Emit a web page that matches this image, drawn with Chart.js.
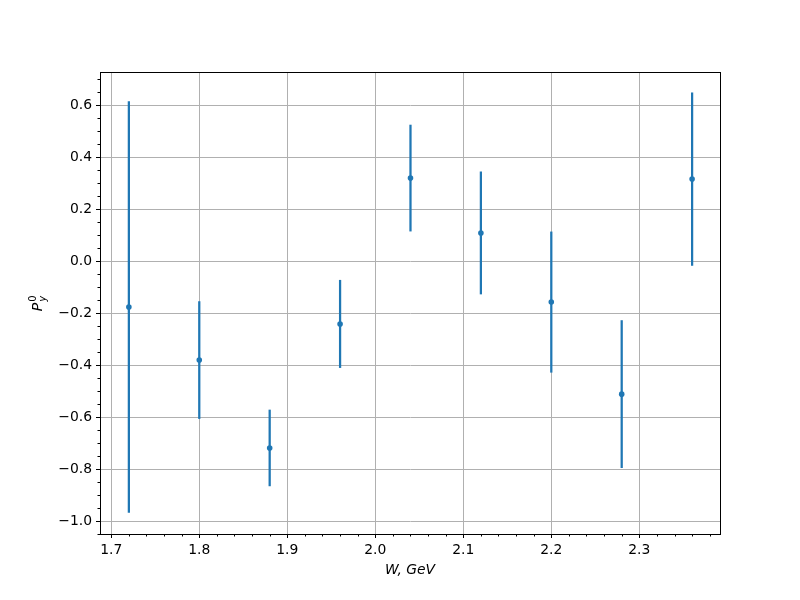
<!DOCTYPE html>
<html>
<head>
<meta charset="utf-8">
<script src="https://cdn.jsdelivr.net/npm/chart.js@4"></script>
<style>
  html, body { margin: 0; padding: 0; background: #fff; }
  #wrap { width: 800px; height: 600px; }
</style>
</head>
<body>
<div id="wrap"><canvas id="polChart" width="800" height="600"></canvas></div>
<script>
// W values (GeV) and measured polarization with symmetric errors
const wValues = [1.72, 1.80, 1.88, 1.96, 2.04, 2.12, 2.20, 2.28, 2.36];
const pValues = [-0.177, -0.381, -0.719, -0.242, 0.319, 0.108, -0.158, -0.512, 0.315];
const pErrors = [0.790, 0.225, 0.146, 0.168, 0.204, 0.235, 0.270, 0.283, 0.332];

const xTicks = [1.7, 1.8, 1.9, 2.0, 2.1, 2.2, 2.3];
const yTicks = [-1.0, -0.8, -0.6, -0.4, -0.2, 0.0, 0.2, 0.4, 0.6];
const xMinorStep = 0.02;
const yMinorStep = 0.05;

const blue = '#1f77b4';
const font = 'DejaVu Sans';

// draws the top/right spines, minor ticks and the y label
const extrasPlugin = {
    id: 'extras',
    afterDraw(chart) {
        const c = chart.ctx;
        const a = chart.chartArea;
        const xs = chart.scales.x;
        const ys = chart.scales.y;
        c.save();
        c.strokeStyle = '#000';
        c.lineWidth = 1;
        c.strokeRect(Math.round(a.left) + 0.5, Math.round(a.top) + 0.5,
            Math.round(a.right - a.left), Math.round(a.bottom - a.top));

        // minor ticks
        c.beginPath();
        for (let v = Math.ceil(xs.min / xMinorStep) * xMinorStep; v <= xs.max; v += xMinorStep) {
            const px = Math.round(xs.getPixelForValue(v)) + 0.5;
            c.moveTo(px, a.bottom);
            c.lineTo(px, a.bottom + 2.5);
        }
        for (let v = Math.ceil(ys.min / yMinorStep) * yMinorStep; v <= ys.max; v += yMinorStep) {
            const py = Math.round(ys.getPixelForValue(v)) + 0.5;
            c.moveTo(a.left, py);
            c.lineTo(a.left - 2.5, py);
        }
        c.stroke();

        // y axis label P_y^0
        c.translate(42, (a.top + a.bottom) / 2);
        c.rotate(-Math.PI / 2);
        c.fillStyle = '#000';
        c.textBaseline = 'alphabetic';
        c.textAlign = 'left';
        c.font = 'italic 14px "' + font + '"';
        const pw = c.measureText('P').width;
        const total = pw + 8;
        c.fillText('P', -total / 2, 0);
        c.font = '10px "' + font + '"';
        c.fillText('0', -total / 2 + pw + 1, -6);
        c.font = 'italic 10px "' + font + '"';
        c.fillText('y', -total / 2 + pw + 1, 4);
        c.restore();
    }
};

function fmt(v) {
    return v.toFixed(1).replace('-', '\u2212');
}

document.addEventListener('DOMContentLoaded', function() {
    const ctx = document.getElementById('polChart');

    const points = wValues.map((w, i) => ({ x: w, y: pValues[i] }));
    const bars = wValues.map((w, i) => ({ x: w, y: [pValues[i] - pErrors[i], pValues[i] + pErrors[i]] }));

    new Chart(ctx, {
        type: 'scatter',
        data: {
            datasets: [{
                type: 'scatter',
                data: points,
                backgroundColor: blue,
                borderWidth: 0,
                pointRadius: 2.8,
                order: 0
            }, {
                type: 'bar',
                data: bars,
                backgroundColor: blue,
                borderWidth: 0,
                barThickness: 1.6,
                order: 1
            }]
        },
        options: {
            responsive: false,
            animation: false,
            layout: { padding: { left: 0, right: 80, top: 72, bottom: 21 } },
            plugins: {
                legend: { display: false },
                tooltip: { enabled: false }
            },
            scales: {
                x: {
                    type: 'linear',
                    offset: false,
                    min: 1.6872,
                    max: 2.3917,
                    afterBuildTicks: s => { s.ticks = xTicks.map(v => ({ value: v })); },
                    afterFit: s => { s.height = 45; },
                    ticks: {
                        callback: v => fmt(v),
                        color: '#000',
                        font: { family: font, size: 13.9 },
                        padding: 4,
                        maxRotation: 0
                    },
                    grid: { offset: false, color: '#b0b0b0', lineWidth: 1, tickColor: '#000', tickLength: 4 },
                    border: { display: true, color: '#000', width: 1 },
                    title: {
                        display: true,
                        text: 'W, GeV',
                        color: '#000',
                        font: { family: font, size: 13.9, style: 'italic' },
                        padding: { top: 2, bottom: 0 }
                    }
                },
                y: {
                    type: 'linear',
                    min: -1.05,
                    max: 0.727,
                    afterBuildTicks: s => { s.ticks = yTicks.map(v => ({ value: v })); },
                    afterFit: s => { s.width = 100; },
                    ticks: {
                        callback: v => fmt(v),
                        color: '#000',
                        font: { family: font, size: 13.9 },
                        padding: 4
                    },
                    grid: { color: '#b0b0b0', lineWidth: 1, tickColor: '#000', tickLength: 4 },
                    border: { display: true, color: '#000', width: 1 }
                }
            }
        },
        plugins: [extrasPlugin]
    });
});
</script>
</body>
</html>
